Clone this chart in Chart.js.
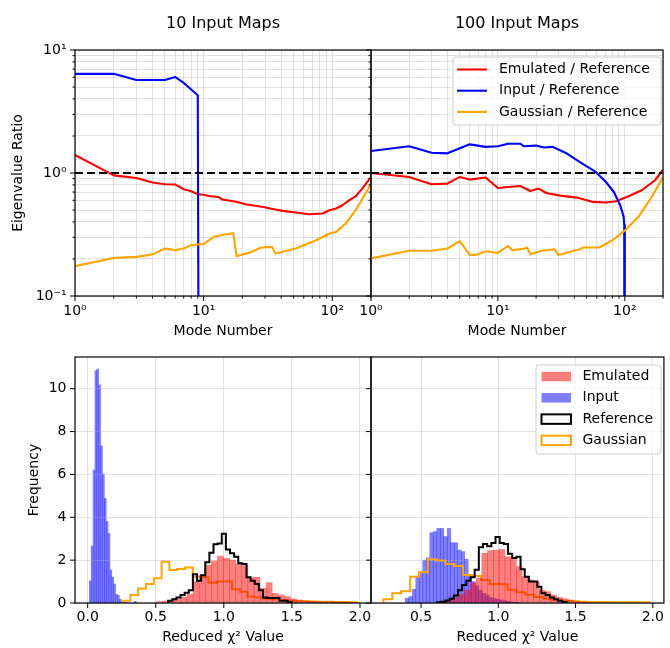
<!DOCTYPE html>
<html>
<head>
<meta charset="utf-8">
<script src="https://cdn.jsdelivr.net/npm/chart.js@4.4.1/dist/chart.umd.min.js"></script>
<style>
  html, body { margin: 0; padding: 0; background: #fff; }
  #wrap { position: relative; width: 670px; height: 648px; }
  #wrap canvas { position: absolute; left: 0; top: 0; }
</style>
</head>
<body>
<div id="wrap">
  <canvas id="tl" width="670" height="648"></canvas>
  <canvas id="tr" width="670" height="648"></canvas>
  <canvas id="blInput" width="670" height="648"></canvas>
  <canvas id="bl" width="670" height="648"></canvas>
  <canvas id="brInput" width="670" height="648"></canvas>
  <canvas id="br" width="670" height="648"></canvas>
</div>
<script>
// ---- eigenvalue ratios, 10 input maps (mode number -> ratio)
const emu10Mode  = [1, 2, 3, 4, 5, 6, 7, 8, 9, 10, 11, 13, 14, 17, 19, 21, 26, 29, 33, 41, 52, 66, 84, 95, 107, 120, 135, 152, 171, 191, 200];
const emu10Ratio = [1.40, 0.957, 0.911, 0.836, 0.81, 0.807, 0.738, 0.71, 0.671, 0.665, 0.65, 0.638, 0.608, 0.589, 0.575, 0.557, 0.54, 0.53, 0.514, 0.492, 0.477, 0.462, 0.468, 0.498, 0.514, 0.547, 0.6, 0.647, 0.747, 0.873, 0.92];
const inp10Mode  = [1, 2, 3, 4, 5, 6, 7, 8, 9, 10];
const inp10Ratio = [6.4, 6.4, 5.7, 5.7, 5.7, 6.04, 5.4, 4.78, 4.28, 1e-15];
const gau10Mode  = [1, 2, 3, 4, 5, 6, 7, 8, 9, 10, 12, 15, 17, 18, 23, 28, 34, 36, 52, 75, 95, 107, 127, 152, 191, 200];
const gau10Ratio = [0.175, 0.204, 0.208, 0.218, 0.243, 0.236, 0.243, 0.259, 0.262, 0.264, 0.303, 0.318, 0.324, 0.211, 0.226, 0.248, 0.251, 0.222, 0.243, 0.284, 0.322, 0.332, 0.388, 0.498, 0.747, 0.824];

// ---- eigenvalue ratios, 100 input maps
const emu100Mode  = [1, 2, 3, 4, 5, 6, 8, 10, 12, 15, 18, 21, 24, 31, 42, 56, 71, 85, 107, 136, 173, 200];
const emu100Ratio = [1.0, 0.929, 0.81, 0.82, 0.929, 0.884, 0.918, 0.756, 0.77, 0.784, 0.714, 0.747, 0.688, 0.655, 0.631, 0.582, 0.575, 0.589, 0.647, 0.724, 0.873, 1.065];
const inp100Mode  = [1, 2, 3, 4, 6, 8, 10, 12, 15, 16, 20, 23, 27, 35, 44, 59, 71, 82, 92, 98, 99, 100];
const inp100Ratio = [1.51, 1.65, 1.46, 1.445, 1.71, 1.63, 1.65, 1.73, 1.73, 1.65, 1.67, 1.61, 1.63, 1.44, 1.23, 1.02, 0.845, 0.701, 0.547, 0.44, 0.38, 1e-15];
const gau100Mode  = [1, 2, 3, 4, 5, 6, 7, 8, 10, 12, 13, 16, 17, 18, 22, 28, 30, 44, 47, 63, 80, 101, 128, 163, 200];
const gau100Ratio = [0.202, 0.233, 0.233, 0.243, 0.279, 0.215, 0.218, 0.231, 0.224, 0.255, 0.236, 0.242, 0.248, 0.218, 0.233, 0.24, 0.215, 0.24, 0.248, 0.248, 0.284, 0.343, 0.44, 0.638, 0.928];

// ratio = 1 reference line
const unityMode  = [1, 200];
const unityRatio = [1, 1];

// ---- reduced chi^2 histograms (first bin edge, bin width, densities)
const emu10Start = 0.506, emu10Width = 0.0447;
const emu10Freq = [0.06, 0.09, 0.12, 0.17, 0.28, 0.4, 1.0, 1.3, 1.77, 1.96, 2.19, 2.08, 2.0, 1.82, 1.75, 1.2, 1.2, 0.68, 0.95, 0.45, 0.37, 0.3, 0.19, 0.14, 0.1, 0.08, 0.07, 0.06, 0.05, 0.05, 0.04, 0.03, 0.03];
const inp10Start = 0.012, inp10Width = 0.0138;
const inp10Freq = [1.03, 2.66, 6.2, 10.84, 10.92, 10.17, 7.33, 6.02, 4.88, 3.8, 3.25, 1.54, 1.2, 0.89, 0.4, 0.36, 0.17, 0.05, 0.03, 0.02, 0, 0, 0, 0, 0.08];
const ref10Start = 0.591, ref10Width = 0.0303;
const ref10Freq = [0.11, 0.17, 0.26, 0.37, 0.48, 0.6, 1.34, 1.04, 1.3, 1.9, 2.35, 2.74, 2.78, 3.23, 2.5, 2.32, 2.16, 1.85, 1.82, 1.2, 1.04, 0.89, 0.6, 0.26, 0.23, 0.23, 0.23, 0.11, 0.11, 0.03];
const gau10Start = 0.256, gau10Width = 0.0574;
const gau10Freq = [0.11, 0.37, 0.68, 0.89, 1.15, 1.93, 1.54, 1.59, 1.66, 1.23, 1.2, 0.95, 1.0, 1.0, 0.64, 0.53, 0.3, 0.26, 0.2, 0.17, 0.14, 0.11, 0.08, 0.08, 0.07, 0.06, 0.06, 0.05, 0.05, 0.04];

const emu100Start = 0.596, emu100Width = 0.0372;
const emu100Freq = [0.05, 0.08, 0.15, 0.25, 0.4, 0.6, 0.95, 1.15, 2.32, 2.45, 2.47, 2.5, 2.16, 2.04, 1.7, 1.23, 1.07, 1.0, 0.6, 0.53, 0.37, 0.26, 0.2, 0.14, 0.08, 0.05, 0.03];
const inp100Start = 0.395, inp100Width = 0.0223;
const inp100Freq = [0.22, 0.3, 0.64, 1.23, 1.38, 2.0, 2.1, 3.28, 3.33, 3.48, 3.48, 3.1, 3.48, 2.81, 2.81, 2.47, 2.4, 2.04, 1.23, 1.0, 0.8, 0.6, 0.45, 0.37, 0.26, 0.22, 0.17, 0.14, 0.11, 0.08, 0.05, 0.03, 0.02];
const ref100Start = 0.604, ref100Width = 0.027;
const ref100Freq = [0.03, 0.06, 0.12, 0.2, 0.35, 0.6, 0.84, 1.04, 1.2, 1.55, 2.6, 2.75, 2.65, 2.8, 3.08, 2.8, 2.75, 2.3, 2.1, 2.16, 1.57, 1.23, 1.0, 1.0, 0.76, 0.45, 0.37, 0.26, 0.17, 0.11, 0.05];
const gau100Start = 0.256, gau100Width = 0.0574;
const gau100Freq = [0.17, 0.45, 0.55, 1.23, 1.43, 2.04, 1.98, 1.82, 1.73, 1.31, 1.26, 1.07, 0.89, 0.87, 0.62, 0.5, 0.38, 0.28, 0.2, 0.14, 0.11, 0.08, 0.06, 0.05, 0.05, 0.05, 0.04, 0.04, 0.03, 0.03];

// ---- ticks
const modeTicks = [1, 2, 3, 4, 5, 6, 7, 8, 9, 10, 20, 30, 40, 50, 60, 70, 80, 90, 100, 200];
const modeMajor = [1, 10, 100];
const modeMajorText = ['10⁰', '10¹', '10²'];
const ratioTicks = [0.1, 0.2, 0.3, 0.4, 0.5, 0.6, 0.7, 0.8, 0.9, 1, 2, 3, 4, 5, 6, 7, 8, 9, 10];
const ratioMajor = [0.1, 1, 10];
const ratioMajorText = ['10⁻¹', '10⁰', '10¹'];
const freqTicks = [0, 2, 4, 6, 8, 10];
const chiTicks10 = [0, 0.5, 1, 1.5, 2];
const chiTicks100 = [0.5, 1, 1.5, 2];

// ---- styling
const RED = '#ff0000', BLUE = '#0000ff', ORANGE = '#ffa500';
const GRID = 'rgba(176,176,176,0.36)';
const FONT = "'DejaVu Sans', sans-serif";
const FREQ_MAX = 11.48;

Chart.defaults.font.family = FONT;
Chart.defaults.font.size = 14;
Chart.defaults.color = '#000';
Chart.defaults.elements.point.radius = 0;
Chart.defaults.elements.point.hitRadius = 0;

const pts = (xs, ys) => xs.map((x, i) => ({ x: x, y: ys[i] }));
const barPts = (start, w, freq) => freq.map((f, i) => ({ x: start + (i + 0.5) * w, y: f }));
function stepPts(start, w, freq) {
  const out = [{ x: start, y: 0 }];
  freq.forEach((f, i) => out.push({ x: start + i * w, y: f }));
  out.push({ x: start + freq.length * w, y: 0 });
  return out;
}

function setTicks(values, major) {
  return (scale) => {
    scale.ticks = values.map(v => ({ value: v, major: major ? major.includes(v) : true }));
  };
}

// spines and outward tick marks
const frame = {
  id: 'frame',
  afterDatasetsDraw(chart) {
    const { ctx, chartArea: a, scales } = chart;
    ctx.save();
    ctx.strokeStyle = '#000';
    ctx.lineWidth = 1;
    ctx.beginPath();
    scales.x.ticks.forEach(t => {
      const px = scales.x.getPixelForValue(t.value);
      const len = t.major ? 5 : 2.5;
      ctx.moveTo(px, a.bottom);
      ctx.lineTo(px, a.bottom + len);
    });
    scales.y.ticks.forEach(t => {
      const py = scales.y.getPixelForValue(t.value);
      const len = t.major ? 5 : 2.5;
      ctx.moveTo(a.left, py);
      ctx.lineTo(a.left - len, py);
    });
    ctx.stroke();
    ctx.lineWidth = 1.2;
    ctx.strokeRect(a.left, a.top, a.right - a.left, a.bottom - a.top);
    ctx.restore();
  }
};

// matplotlib style legend box inside the axes
function boxLegend(box) {
  return {
    id: 'boxLegend',
    afterDatasetsDraw(chart) {
      const ctx = chart.ctx;
      ctx.save();
      ctx.beginPath();
      if (ctx.roundRect) ctx.roundRect(box.left, box.top, box.width, box.height, 3);
      else ctx.rect(box.left, box.top, box.width, box.height);
      ctx.fillStyle = 'rgba(255,255,255,0.8)';
      ctx.fill();
      ctx.lineWidth = 1;
      ctx.strokeStyle = '#cccccc';
      ctx.stroke();
      ctx.font = '14px ' + FONT;
      ctx.textBaseline = 'middle';
      box.entries.forEach((ds, i) => {
        const cy = box.firstRow + i * box.rowStep;
        if (ds.type === 'bar') {
          ctx.fillStyle = ds.backgroundColor;
          ctx.fillRect(box.handleX, cy - box.handleH / 2, box.handleW, box.handleH);
        } else if (ds.stepped) {
          ctx.strokeStyle = ds.borderColor;
          ctx.lineWidth = ds.borderWidth;
          ctx.strokeRect(box.handleX, cy - box.handleH / 2, box.handleW, box.handleH);
        } else {
          ctx.strokeStyle = ds.borderColor;
          ctx.lineWidth = ds.borderWidth;
          ctx.beginPath();
          ctx.moveTo(box.handleX, cy);
          ctx.lineTo(box.handleX + box.handleW, cy);
          ctx.stroke();
        }
        ctx.fillStyle = '#000';
        ctx.fillText(ds.label, box.textX, cy);
      });
      ctx.restore();
    }
  };
}

function titleAxis(text) {
  return {
    type: 'linear', position: 'top', min: 0, max: 1,
    afterFit: s => { s.height = 50; },
    ticks: { display: false },
    grid: { display: false },
    border: { display: false },
    title: { display: true, text: text, font: { size: 16 }, padding: { top: 14, bottom: 0 } }
  };
}

function ratioSets(emuX, emuY, inpX, inpY, gauX, gauY) {
  const line = (label, xs, ys, color) => ({
    label: label, data: pts(xs, ys), xAxisID: 'x', yAxisID: 'y',
    borderColor: color, borderWidth: 2.1, borderJoinStyle: 'round'
  });
  const emu = line('Emulated / Reference', emuX, emuY, RED);
  const inp = line('Input / Reference', inpX, inpY, BLUE);
  const gau = line('Gaussian / Reference', gauX, gauY, ORANGE);
  const unity = {
    label: '', data: pts(unityMode, unityRatio), xAxisID: 'x', yAxisID: 'y',
    borderColor: '#000', borderWidth: 2.2, borderDash: [8, 4]
  };
  // first dataset is drawn on top
  return { draw: [unity, gau, inp, emu], legend: [emu, inp, gau] };
}

function ratioScales(title, left) {
  return {
    x: {
      type: 'logarithmic', position: 'bottom', min: 1, max: 200,
      afterBuildTicks: setTicks(modeTicks, modeMajor),
      afterFit: s => { s.height = 46; },
      grid: { color: GRID, drawTicks: false },
      border: { display: false },
      ticks: {
        autoSkip: false, maxRotation: 0, padding: 7,
        callback: v => { const k = modeMajor.indexOf(v); return k >= 0 ? modeMajorText[k] : ''; }
      },
      title: { display: true, text: 'Mode Number', padding: { top: 0, bottom: 2 } }
    },
    y: {
      type: 'logarithmic', position: 'left', min: 0.1, max: 10,
      afterBuildTicks: setTicks(ratioTicks, ratioMajor),
      afterFit: s => { s.width = left ? 75 : 5; },
      grid: { color: GRID, drawTicks: false },
      border: { display: false },
      ticks: {
        display: left, autoSkip: false, padding: 8.5,
        callback: v => { const k = ratioMajor.indexOf(v); return k >= 0 ? ratioMajorText[k] : ''; }
      },
      title: { display: left, text: 'Eigenvalue Ratio', padding: { top: 9.6, bottom: 0 } }
    },
    xt: titleAxis(title)
  };
}

function histSets(h) {
  const ref = { label: 'Reference', data: stepPts(h.refStart, h.refWidth, h.ref), stepped: true,
    borderColor: '#000', borderWidth: 2, borderJoinStyle: 'miter' };
  const gau = { label: 'Gaussian', data: stepPts(h.gauStart, h.gauWidth, h.gau), stepped: true,
    borderColor: ORANGE, borderWidth: 2, borderJoinStyle: 'miter' };
  const emu = { type: 'bar', label: 'Emulated', data: barPts(h.emuStart, h.emuWidth, h.emu),
    backgroundColor: 'rgba(255,0,0,0.5)', borderWidth: 0, barPercentage: 1, categoryPercentage: 1 };
  const inp = { type: 'bar', label: 'Input', data: barPts(h.inpStart, h.inpWidth, h.inp),
    backgroundColor: 'rgba(0,0,255,0.5)', borderWidth: 0, barPercentage: 1, categoryPercentage: 1 };
  return { main: [ref, emu, gau], input: [inp], legend: [emu, inp, ref, gau] };
}

function histScales(xmin, xmax, xticks, left) {
  return {
    x: {
      type: 'linear', position: 'bottom', min: xmin, max: xmax, offset: false,
      afterBuildTicks: setTicks(xticks),
      afterFit: s => { s.height = 44; },
      grid: { color: GRID, drawTicks: false, offset: false },
      border: { display: false },
      ticks: { autoSkip: false, maxRotation: 0, padding: 6, callback: v => v.toFixed(1) },
      title: { display: true, text: 'Reduced χ² Value', padding: { top: 0, bottom: 1.6 } }
    },
    y: {
      type: 'linear', position: 'left', min: 0, max: FREQ_MAX,
      afterBuildTicks: setTicks(freqTicks),
      afterFit: s => { s.width = left ? 75 : 5; },
      grid: { color: GRID, drawTicks: false },
      border: { display: false },
      ticks: { display: left, autoSkip: false, padding: 8.5 },
      title: { display: left, text: 'Frequency', padding: { top: 25.6, bottom: 0 } }
    }
  };
}

const baseOptions = {
  responsive: false, animation: false, devicePixelRatio: 1, events: [],
  plugins: { legend: { display: false }, tooltip: { enabled: false } }
};

function makeChart(id, datasets, scales, padding, extra) {
  return new Chart(document.getElementById(id), {
    type: 'line',
    data: { datasets: datasets },
    options: Object.assign({}, baseOptions, { layout: { padding: padding }, scales: scales }),
    plugins: [frame].concat(extra || [])
  });
}

// input bars live on their own canvas underneath, sharing the same plot box
function makeInputBars(id, datasets, xmin, xmax, area) {
  return new Chart(document.getElementById(id), {
    type: 'bar',
    data: { datasets: datasets },
    options: Object.assign({}, baseOptions, {
      layout: { padding: area },
      scales: {
        x: { type: 'linear', display: false, min: xmin, max: xmax, offset: false, grid: { offset: false } },
        y: { type: 'linear', display: false, min: 0, max: FREQ_MAX }
      }
    })
  });
}

const top10 = ratioSets(emu10Mode, emu10Ratio, inp10Mode, inp10Ratio, gau10Mode, gau10Ratio);
const top100 = ratioSets(emu100Mode, emu100Ratio, inp100Mode, inp100Ratio, gau100Mode, gau100Ratio);

makeChart('tl', top10.draw, ratioScales('10 Input Maps', true), { left: 0, right: 299, top: 0, bottom: 306 });
makeChart('tr', top100.draw, ratioScales('100 Input Maps', false), { left: 366, right: 2, top: 0, bottom: 306 },
  [boxLegend({ left: 453, top: 57, width: 208, height: 68, firstRow: 69.5, rowStep: 21.2,
    handleX: 457, handleW: 30, handleH: 0, textX: 499, entries: top100.legend })]);

const hist10 = histSets({
  emuStart: emu10Start, emuWidth: emu10Width, emu: emu10Freq,
  inpStart: inp10Start, inpWidth: inp10Width, inp: inp10Freq,
  refStart: ref10Start, refWidth: ref10Width, ref: ref10Freq,
  gauStart: gau10Start, gauWidth: gau10Width, gau: gau10Freq });
const hist100 = histSets({
  emuStart: emu100Start, emuWidth: emu100Width, emu: emu100Freq,
  inpStart: inp100Start, inpWidth: inp100Width, inp: inp100Freq,
  refStart: ref100Start, refWidth: ref100Width, ref: ref100Freq,
  gauStart: gau100Start, gauWidth: gau100Width, gau: gau100Freq });

makeInputBars('blInput', hist10.input, -0.093, 2.081, { left: 75, right: 299, top: 357, bottom: 45 });
makeChart('bl', hist10.main, histScales(-0.093, 2.081, chiTicks10, true), { left: 0, right: 299, top: 357, bottom: 1 });

makeInputBars('brInput', hist100.input, 0.176, 2.072, { left: 371, right: 2, top: 357, bottom: 45 });
makeChart('br', hist100.main, histScales(0.176, 2.072, chiTicks100, false), { left: 366, right: 2, top: 357, bottom: 1 },
  [boxLegend({ left: 536, top: 365, width: 125, height: 89, firstRow: 376.5, rowStep: 21.3,
    handleX: 541.5, handleW: 29.5, handleH: 9.5, textX: 582.5, entries: hist100.legend })]);
</script>
</body>
</html>
